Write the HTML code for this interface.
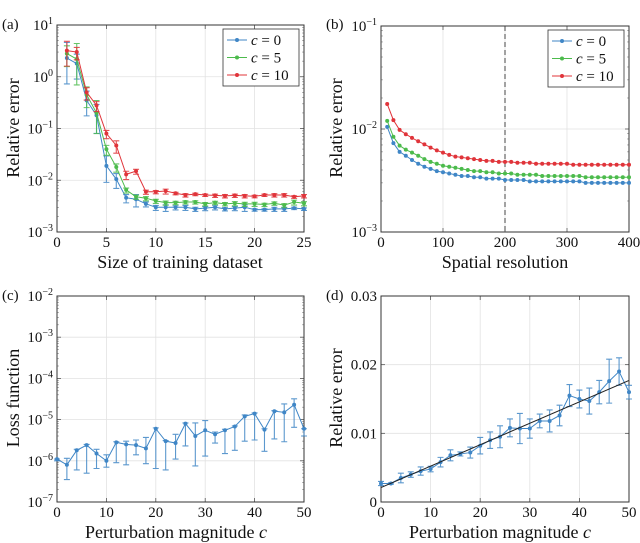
<!DOCTYPE html>
<html><head><meta charset="utf-8"><style>
html,body{margin:0;padding:0;background:#fff}
svg{display:block;font-family:"Liberation Serif",serif}
</style></head><body>
<svg id="fig" width="640" height="543" viewBox="0 0 640 543" xmlns="http://www.w3.org/2000/svg"></svg>
<script>
// ---- Panel (a) data ----
const aX = [1,2,3,4,5,6,7,8,9,10,11,12,13,14,15,16,17,18,19,20,21,22,23,24,25];
const aC0 = [2.3,1.8,0.35,0.18,0.019,0.0105,0.0046,0.0043,0.0035,0.003,0.003,0.003,0.003,0.0028,0.0029,0.003,0.0028,0.0029,0.003,0.0027,0.0027,0.0028,0.0028,0.0029,0.0028];
const aC5 = [2.8,2.2,0.45,0.2,0.04,0.018,0.0065,0.0048,0.0045,0.004,0.0037,0.0037,0.0038,0.0038,0.0035,0.0037,0.0035,0.0036,0.0035,0.0035,0.0034,0.0036,0.0033,0.0038,0.0036];
const aC10 = [3.2,3.0,0.5,0.28,0.08,0.047,0.013,0.015,0.006,0.006,0.0062,0.0056,0.0052,0.0054,0.0052,0.0051,0.005,0.0051,0.005,0.0049,0.0052,0.0052,0.0052,0.0048,0.005];
const aE0 = [0.5,0.3,0.3,0.35,0.32,0.18,0.1,0.15,0.06,0.06,0.08,0.05,0.06,0.05,0.05,0.05,0.04,0.05,0.08,0.03,0.03,0.05,0.05,0.03,0.03];
const aE5 = [0.25,0.5,0.25,0.4,0.12,0.1,0.06,0.05,0.05,0.05,0.05,0.04,0.04,0.04,0.04,0.04,0.04,0.05,0.05,0.05,0.04,0.04,0.05,0.06,0.05];
const aE10 = [0.3,0.15,0.15,0.12,0.1,0.15,0.1,0.06,0.05,0.04,0.06,0.03,0.04,0.03,0.03,0.04,0.04,0.04,0.04,0.03,0.03,0.04,0.04,0.03,0.04];
// ---- Panel (b) data ----
const bX = [10,20,30,40,50,60,70,80,90,100,110,120,130,140,150,160,170,180,190,200,210,220,230,240,250,260,270,280,290,300,310,320,330,340,350,360,370,380,390,400];
const bC0 = [0.0105,0.0073,0.006,0.0055,0.005,0.0046,0.0043,0.0041,0.0039,0.0038,0.0037,0.0036,0.0035,0.0035,0.0034,0.0034,0.0033,0.0033,0.0033,0.0032,0.0032,0.0032,0.0032,0.0031,0.0031,0.0031,0.0031,0.0031,0.0031,0.0031,0.0031,0.0031,0.0030,0.0030,0.0030,0.0030,0.0030,0.0030,0.0030,0.0030];
const bC5 = [0.012,0.0084,0.0069,0.0063,0.0059,0.0055,0.0051,0.0048,0.0046,0.0044,0.0043,0.0042,0.0041,0.004,0.0039,0.0039,0.0038,0.0038,0.0037,0.0037,0.0037,0.0036,0.0036,0.0036,0.0036,0.0035,0.0035,0.0035,0.0035,0.0035,0.0035,0.0035,0.0034,0.0034,0.0034,0.0034,0.0034,0.0034,0.0034,0.0034];
const bC10 = [0.0175,0.0122,0.0098,0.0089,0.0082,0.0076,0.0071,0.0066,0.0062,0.0059,0.0056,0.0054,0.0053,0.0052,0.0051,0.005,0.0049,0.0049,0.0048,0.0048,0.0048,0.0047,0.0047,0.0047,0.0046,0.0046,0.0046,0.0046,0.0046,0.0046,0.0045,0.0045,0.0045,0.0045,0.0045,0.0045,0.0045,0.0045,0.0045,0.0045];
// ---- Panel (c) data ----
const cX = [0,2,4,6,8,10,12,14,16,18,20,22,24,26,28,30,32,34,36,38,40,42,44,46,48,50];
const cY = [1.1e-6,0.8e-6,1.8e-6,2.4e-6,1.5e-6,1e-6,2.8e-6,2.5e-6,2.4e-6,2e-6,6e-6,3e-6,2.7e-6,8e-6,4e-6,5.5e-6,4.4e-6,5.5e-6,6.8e-6,1.2e-5,1.4e-5,5.7e-6,1.6e-5,1.5e-5,2.3e-5,6e-6];
const cLo = [1e-6,3.5e-7,6e-7,5e-7,6.5e-7,7e-7,9e-7,8e-7,1.4e-6,8.5e-7,6.5e-7,6e-7,1.1e-6,2.3e-6,7.5e-7,1.3e-6,2.7e-6,1.5e-6,1.8e-6,3e-6,3.2e-6,1.7e-6,3.4e-6,2.9e-6,6.5e-6,4e-6];
const cHi = [1.1e-6,1.15e-6,1.9e-6,2.5e-6,1.9e-6,1.4e-6,2.9e-6,3e-6,3.2e-6,3.7e-6,6.3e-6,3.1e-6,4.4e-6,8.3e-6,8.3e-6,9.5e-6,5e-6,5.8e-6,7e-6,1.3e-5,1.45e-5,6e-6,1.65e-5,2.4e-5,3.2e-5,6e-6];
// ---- Panel (d) data ----
const dX = cX;
const dY = [0.0027,0.0027,0.0035,0.004,0.0045,0.0048,0.0058,0.0068,0.007,0.0072,0.0082,0.009,0.0095,0.0108,0.0107,0.0107,0.0118,0.0118,0.0126,0.0155,0.015,0.0147,0.016,0.0176,0.019,0.016];
const dErr = [0.0003,0.0001,0.0007,0.0004,0.0006,0.0004,0.0007,0.0008,0.0003,0.0008,0.0012,0.0012,0.0016,0.0013,0.0022,0.0014,0.001,0.0016,0.0015,0.0016,0.0013,0.0019,0.0017,0.0032,0.002,0.001];
const dFit = [0.0021,0.0177];

const BLUE="#3f86c6", GREEN="#4cbb4c", RED="#e0343a";
const svg=document.getElementById('fig');
const NS="http://www.w3.org/2000/svg";
function mk(tag,at,parent){const e=document.createElementNS(NS,tag);for(const k in at)e.setAttribute(k,at[k]);(parent||svg).appendChild(e);return e;}
function txt(s,x,y,size,anchor,parent){const t=mk('text',{x:x,y:y,'font-size':size,'text-anchor':anchor||'middle',fill:'#111'},parent);t.textContent=s;return t;}

function axes(name,L,R,T,B,xmin,xmax,ymin,ymax,log){
  const g=mk('g',{});
  
  
  const sx=v=>L+(v-xmin)/(xmax-xmin)*(R-L);
  const sy=log?(v=>B-(Math.log10(v)-ymin)/(ymax-ymin)*(B-T)):(v=>B-(v-ymin)/(ymax-ymin)*(B-T));
  return {g,sx,sy,L,R,T,B};
}
function frame(A,xt,yt,ylog,minor){
  const gg=mk('g',{},A.g);
  
  
  xt.forEach(v=>{const x=A.sx(v);mk('line',{x1:x,x2:x,y1:A.T,y2:A.B,stroke:'#e2e2e2','stroke-width':0.8},gg);
    mk('line',{x1:x,x2:x,y1:A.B,y2:A.B-4,stroke:'#555','stroke-width':0.8},gg);mk('line',{x1:x,x2:x,y1:A.T,y2:A.T+4,stroke:'#555','stroke-width':0.8},gg);});
  yt.forEach(v=>{const y=A.sy(v);mk('line',{x1:A.L,x2:A.R,y1:y,y2:y,stroke:'#e2e2e2','stroke-width':0.8},gg);
    mk('line',{x1:A.L,x2:A.L+4,y1:y,y2:y,stroke:'#555','stroke-width':0.8},gg);mk('line',{x1:A.R,x2:A.R-4,y1:y,y2:y,stroke:'#555','stroke-width':0.8},gg);});
  if(minor){for(let i=0;i<yt.length-1;i++){for(let k=2;k<10;k++){const y=A.sy(yt[i]*k);
    mk('line',{x1:A.L,x2:A.L+2,y1:y,y2:y,stroke:'#888','stroke-width':0.6},gg);mk('line',{x1:A.R,x2:A.R-2,y1:y,y2:y,stroke:'#888','stroke-width':0.6},gg);}}}
  mk('rect',{x:A.L,y:A.T,width:A.R-A.L,height:A.B-A.T,fill:'none',stroke:'#333','stroke-width':1},A.g);
}
function xlabels(A,xt){xt.forEach(v=>{const t=txt(String(v),A.sx(v),A.B+15,15,'middle',A.g);});}
function ylogLabels(A,exps){exps.forEach(e=>{const t=mk('text',{x:A.L-4,y:A.sy(Math.pow(10,e))+5,'font-size':15,'text-anchor':'end',fill:'#111'},A.g);
  
  t.textContent='10';const s=mk('tspan',{dy:-6,'font-size':10},t);s.textContent=(e<0?'\u2212':'')+Math.abs(e);});}
function series(A,xs,ys,col,name,lo,hi){
  const g=mk('g',{},A.g);
  
  
  if(lo){xs.forEach((x,i)=>{const px=A.sx(x),y1=A.sy(lo[i]),y2=A.sy(hi[i]);
    const eb=mk('path',{d:`M${px},${y1}V${y2}M${px-3},${y1}H${px+3}M${px-3},${y2}H${px+3}`,stroke:col,'stroke-width':1.1,fill:'none',opacity:0.85},g);
    });}
  mk('polyline',{points:xs.map((x,i)=>A.sx(x)+','+A.sy(ys[i])).join(' '),fill:'none',stroke:col,'stroke-width':1},g);
  xs.forEach((x,i)=>{const c=mk('circle',{cx:A.sx(x),cy:A.sy(ys[i]),r:2,fill:col},g);});
}
function legend(x,y){
  const g=mk('g',{});
  
  
  mk('rect',{x:x,y:y,width:76,height:57,fill:'#fff',stroke:'#333','stroke-width':0.8},g);
  [[BLUE,'0'],[GREEN,'5'],[RED,'10']].forEach((c,i)=>{const yy=y+11+i*17.5;
    const e=mk('g',{},g);
    mk('line',{x1:x+4,x2:x+24,y1:yy,y2:yy,stroke:c[0],'stroke-width':1},e);mk('circle',{cx:x+14,cy:yy,r:2,fill:c[0]},e);
    const t=mk('text',{x:x+28,y:yy+5,'font-size':15,fill:'#111'},e);const it=mk('tspan',{'font-style':'italic'},t);it.textContent='c';
    const r=mk('tspan',{},t);r.textContent=' = '+c[1];});
}
function ytitle(s,x,y){const t=mk('text',{x:x,y:y,'font-size':18,'text-anchor':'middle',fill:'#111',transform:`rotate(-90 ${x} ${y})`});t.textContent=s;}
function xtitle(s,x,y,it){const t=txt(s,x,y,18,'middle');if(it){const sp=mk('tspan',{'font-style':'italic'},t);sp.textContent=' c';}}
function plabel(s,x,y){const t=txt(s,x,y,15,'start');}

// Panel a
const A=axes('panel-a',57,304,25,232,0,25,-3,1,true);
frame(A,[5,10,15,20],[1e-3,1e-2,1e-1,1,10],true,true);
series(A,aX,aC0,BLUE,'series-c0',aC0.map((v,i)=>v/Math.pow(10,aE0[i])),aC0.map((v,i)=>v*Math.pow(10,aE0[i]*0.6)));
series(A,aX,aC5,GREEN,'series-c5',aC5.map((v,i)=>v/Math.pow(10,aE5[i])),aC5.map((v,i)=>v*Math.pow(10,aE5[i]*0.6)));
series(A,aX,aC10,RED,'series-c10',aC10.map((v,i)=>v/Math.pow(10,aE10[i])),aC10.map((v,i)=>v*Math.pow(10,aE10[i]*0.6)));
xlabels(A,[0,5,10,15,20,25]);ylogLabels(A,[-3,-2,-1,0,1]);
legend(223,29);ytitle('Relative error',19,128);xtitle('Size of training dataset',180,268);plabel('(a)',2,29);

// Panel b
const B=axes('panel-b',381,629,26,232,0,400,-3,-1,true);
frame(B,[100,200,300],[1e-3,1e-2,1e-1],true,true);
mk('line',{x1:B.sx(200),x2:B.sx(200),y1:B.T,y2:B.B,stroke:'#444','stroke-width':1,'stroke-dasharray':'5,3'},B.g);
series(B,bX,bC0,BLUE,'series-c0');series(B,bX,bC5,GREEN,'series-c5');series(B,bX,bC10,RED,'series-c10');
xlabels(B,[0,100,200,300,400]);ylogLabels(B,[-3,-2,-1]);
legend(548,30);ytitle('Relative error',342,128);xtitle('Spatial resolution',505,268);plabel('(b)',326,29);

// Panel c
const C=axes('panel-c',57,304,296,502,0,50,-7,-2,true);
frame(C,[10,20,30,40],[1e-7,1e-6,1e-5,1e-4,1e-3,1e-2],true,true);
series(C,cX,cY,BLUE,'loss-series',cLo,cHi);
xlabels(C,[0,10,20,30,40,50]);ylogLabels(C,[-7,-6,-5,-4,-3,-2]);
ytitle('Loss function',19,398);xtitle('Perturbation magnitude',176,538,true);plabel('(c)',2,300);

// Panel d
const D=axes('panel-d',381,629,296,502,0,50,0,0.03,false);
frame(D,[10,20,30,40],[0,0.01,0.02,0.03],false,false);
series(D,dX,dY,BLUE,'error-series',dY.map((v,i)=>v-dErr[i]),dY.map((v,i)=>v+dErr[i]));
const fl=mk('line',{x1:D.sx(0),y1:D.sy(dFit[0]),x2:D.sx(50),y2:D.sy(dFit[1]),stroke:'#222','stroke-width':1},D.g);

xlabels(D,[0,10,20,30,40,50]);
[[0,'0'],[0.01,'0.01'],[0.02,'0.02'],[0.03,'0.03']].forEach(p=>{const t=txt(p[1],D.L-4,D.sy(p[0])+5,15,'end',D.g);});
ytitle('Relative error',342,398);xtitle('Perturbation magnitude',500,538,true);plabel('(d)',326,300);
</script>
</body></html>
